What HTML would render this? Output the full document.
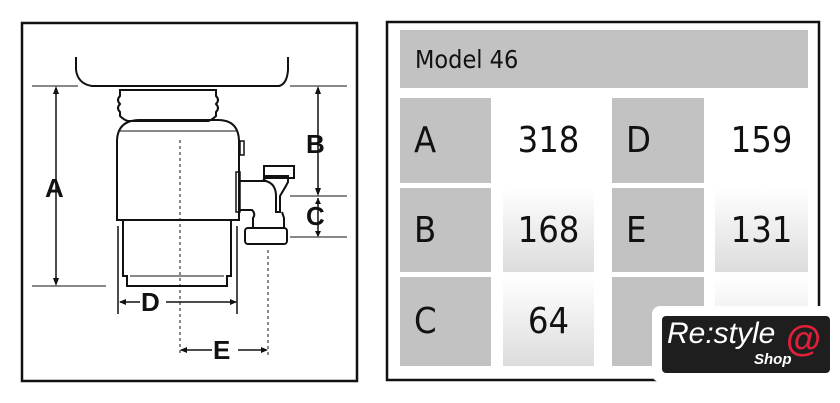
<!DOCTYPE html>
<html><head><meta charset="utf-8"><style>
body{margin:0;width:840px;height:403px;background:#fff;overflow:hidden;position:relative;font-family:"DejaVu Sans Condensed","DejaVu Sans","Liberation Sans",sans-serif}
.c{position:absolute;display:flex;align-items:center;font-size:36px;color:#111}
.k{background:#c2c2c2;padding-left:14px;box-sizing:border-box}
.v{justify-content:center}
</style></head><body>
<svg width="840" height="403" style="position:absolute;left:0;top:0">
<g fill="none" stroke="#111">
<rect x="22" y="23" width="335" height="358" stroke-width="2.5"/>
<path d="M76 57 V70 Q78 84 92 86 H279 Q287 84 288 70 V57" stroke-width="2"/>
<line x1="32" y1="86" x2="78" y2="86"/><line x1="290" y1="86" x2="347" y2="86"/>
<line x1="32" y1="286" x2="106" y2="286"/>
<line x1="56" y1="88" x2="56" y2="284" stroke-width="1.5"/>
<line x1="318" y1="88" x2="318" y2="194" stroke-width="1.5"/>
<line x1="318" y1="198" x2="318" y2="236" stroke-width="1.5"/>
<line x1="290" y1="196" x2="347" y2="196"/>
<line x1="290" y1="237" x2="347" y2="237"/>
<path d="M136 90 H216 V96 Q220 100 216 104 Q220 108 216 112 V116 Q212 120 208 121 H128 Q124 120 120 116 V112 Q116 108 120 104 Q116 100 120 96 V90 Z" stroke-width="2" fill="#fff"/>
<path d="M140 120 Q118 120 117 140 V220 H239 V140 Q238 120 218 120 Z" stroke-width="2"/>
<line x1="120" y1="131" x2="236" y2="131"/>
<path d="M123 220 V276 H127 V286 H227 V276 H231 V220" stroke-width="2"/>
<line x1="130" y1="276" x2="224" y2="276"/>
<line x1="118" y1="226" x2="118" y2="314" stroke-width="1.5"/>
<line x1="237" y1="226" x2="237" y2="314" stroke-width="1.5"/>
<line x1="180" y1="140" x2="180" y2="356" stroke-dasharray="3,3"/>
<line x1="268" y1="250" x2="268" y2="356" stroke-dasharray="3,3"/>
<line x1="120" y1="302" x2="140" y2="302" stroke-width="1.5"/><line x1="166" y1="302" x2="236" y2="302" stroke-width="1.5"/>
<line x1="181" y1="350" x2="212" y2="350" stroke-width="1.5"/><line x1="238" y1="350" x2="266" y2="350" stroke-width="1.5"/>
<path d="M240 181 H266 Q276 184 276 196 V212 H280 V196 Q286 186 288 182 V176 H266 Q265 180 262 181" stroke-width="2"/>
<rect x="264" y="166" width="30" height="12" stroke-width="2"/>
<path d="M240 210 H252 Q256 214 253 218 V228 H284 V218 L282 212" stroke-width="2"/>
<rect x="245" y="228" width="42" height="16" rx="3" stroke-width="2"/>
<rect x="236" y="172" width="4" height="40" stroke-width="1.5"/>
<rect x="240" y="141" width="4" height="14" stroke-width="1.5"/>
</g>
<g fill="#111">
<polygon points="56,86 53,94 59,94"/><polygon points="56,286 53,278 59,278"/>
<polygon points="318,86 315,94 321,94"/><polygon points="318,196 315,188 321,188"/>
<polygon points="318,198 315,204 321,204"/><polygon points="318,237 315,231 321,231"/>
<polygon points="119,302 126,299 126,305"/><polygon points="237,302 230,299 230,305"/>
<polygon points="180,350 187,347 187,353"/><polygon points="268,350 261,347 261,353"/>
<g font-family="Liberation Sans" font-weight="bold" font-size="26">
<text x="45" y="197">A</text><text x="306" y="153">B</text><text x="306" y="225">C</text>
<text x="141" y="311">D</text><text x="213" y="359">E</text></g>
</g>
<rect x="387" y="22" width="432" height="358" fill="none" stroke="#111" stroke-width="2.5"/>
<defs><linearGradient id="g" x1="0" y1="0" x2="0" y2="1"><stop offset="0" stop-color="#fff"/><stop offset="1" stop-color="#dcdcdc"/></linearGradient></defs>
<rect x="503" y="188" width="91" height="84" fill="url(#g)"/><rect x="715" y="188" width="93" height="84" fill="url(#g)"/>
<rect x="503" y="277" width="91" height="89" fill="url(#g)"/><rect x="715" y="277" width="93" height="89" fill="url(#g)"/>
</svg>
<div class="c k" style="left:400px;top:30px;width:408px;height:58px;font-size:25px;padding-left:15px">Model 46</div>
<div class="c k" style="left:400px;top:98px;width:91px;height:85px">A</div>
<div class="c v" style="left:503px;top:98px;width:91px;height:85px">318</div>
<div class="c k" style="left:612px;top:98px;width:92px;height:85px">D</div>
<div class="c v" style="left:715px;top:98px;width:93px;height:85px">159</div>
<div class="c k" style="left:400px;top:188px;width:91px;height:84px">B</div>
<div class="c v" style="left:503px;top:188px;width:91px;height:84px">168</div>
<div class="c k" style="left:612px;top:188px;width:92px;height:84px">E</div>
<div class="c v" style="left:715px;top:188px;width:93px;height:84px">131</div>
<div class="c k" style="left:400px;top:277px;width:91px;height:89px">C</div>
<div class="c v" style="left:503px;top:277px;width:91px;height:89px">64</div>
<div class="c k" style="left:612px;top:277px;width:92px;height:89px"></div>
<div style="position:absolute;left:652px;top:306px;width:184px;height:76px;background:#fff;border-radius:8px"></div>
<div style="position:absolute;left:662px;top:316px;width:168px;height:57px;background:#1e1e1e;border-radius:4px;color:#fff;font-family:'Liberation Sans',sans-serif">
<div style="position:absolute;left:5px;top:1px;font-size:30px;font-style:italic">Re:style</div>
<div style="position:absolute;left:92px;top:35px;font-size:15px;font-weight:bold;font-style:italic">Shop</div>
<div style="position:absolute;left:124px;top:2px;font-size:36px;color:#e0203a;font-weight:bold">@</div>
</div>
</body></html>
